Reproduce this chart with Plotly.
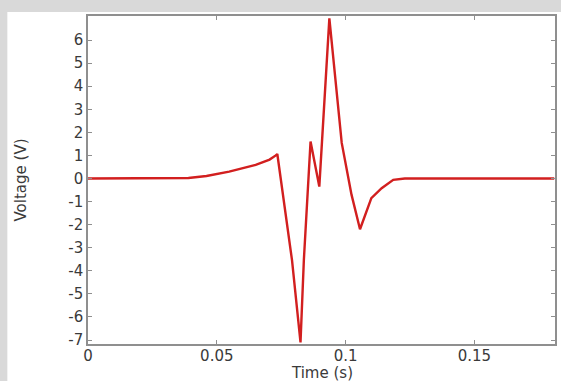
import plotly.graph_objects as go

# Data
time_s = [0, 0.02, 0.03, 0.039, 0.046, 0.0548, 0.0651, 0.0705, 0.0729, 0.0735, 0.0792,
          0.0825, 0.0838, 0.0864, 0.0898, 0.0937, 0.0985, 0.1023, 0.1056, 0.110,
          0.114, 0.1185, 0.123, 0.13, 0.181]
voltage = [0, 0, 0, 0.02, 0.11, 0.3, 0.59, 0.82, 1.0, 1.06, -3.54,
           -7.1, -3.53, 1.6, -0.35, 6.94, 1.54, -0.7, -2.2, -0.85,
           -0.42, -0.06, 0.0, 0, 0]

x_tickvals = [0, 0.05, 0.1, 0.15]
x_ticktext = ["0", "0.05", "0.1", "0.15"]
y_tickvals = [6, 5, 4, 3, 2, 1, 0, -1, -2, -3, -4, -5, -6, -7]
y_ticktext = ["6", "5", "4", "3", "2", "1", "0", "-1", "-2", "-3", "-4", "-5", "-6", "-7"]
x_title = "Time (s)"
y_title = "Voltage (V)"

W, H = 561, 381
L, R, T, B = 88, 4, 16, 37
pw, ph = W - L - R, H - T - B

fig = go.Figure()
fig.add_trace(go.Scatter(x=time_s, y=voltage, mode="lines",
                         line=dict(color="#d21f1f", width=2.4)))

font = dict(family="DejaVu Sans", size=15, color="#3a3a3a")
axis_common = dict(showgrid=False, zeroline=False, showline=True,
                   linecolor="#8f8f8f", linewidth=1.5, mirror="ticks",
                   ticks="inside", ticklen=4, tickcolor="#8f8f8f",
                   tickfont=font)

fig.update_layout(
    width=W, height=H,
    margin=dict(l=L, r=R, t=T, b=B),
    paper_bgcolor="#d9d9d9",
    plot_bgcolor="white",
    showlegend=False,
    xaxis=dict(range=[0, 0.1813], tickmode="array", tickvals=x_tickvals,
               ticktext=x_ticktext, ticklabelstandoff=-3, **axis_common),
    yaxis=dict(range=[-7.17, 7.04], tickmode="array", tickvals=y_tickvals,
               ticktext=y_ticktext,
               title=dict(text=y_title, font=dict(family="DejaVu Sans", size=15, color="#3a3a3a"), standoff=38),
               **axis_common),
    annotations=[dict(text=x_title, xref="paper", yref="paper", x=0.5,
                      y=-(373 - (H - B)) / ph, xanchor="center", yanchor="middle",
                      showarrow=False,
                      font=dict(family="DejaVu Sans", size=15, color="#3a3a3a"))],
    shapes=[dict(type="rect", xref="paper", yref="paper", layer="below",
                 x0=(7 - L) / pw, x1=(W - L + 5) / pw,
                 y0=-(B + 5) / ph, y1=1 + (T - 12) / ph,
                 fillcolor="white", line=dict(width=0))],
)

fig.write_html("out.html")
